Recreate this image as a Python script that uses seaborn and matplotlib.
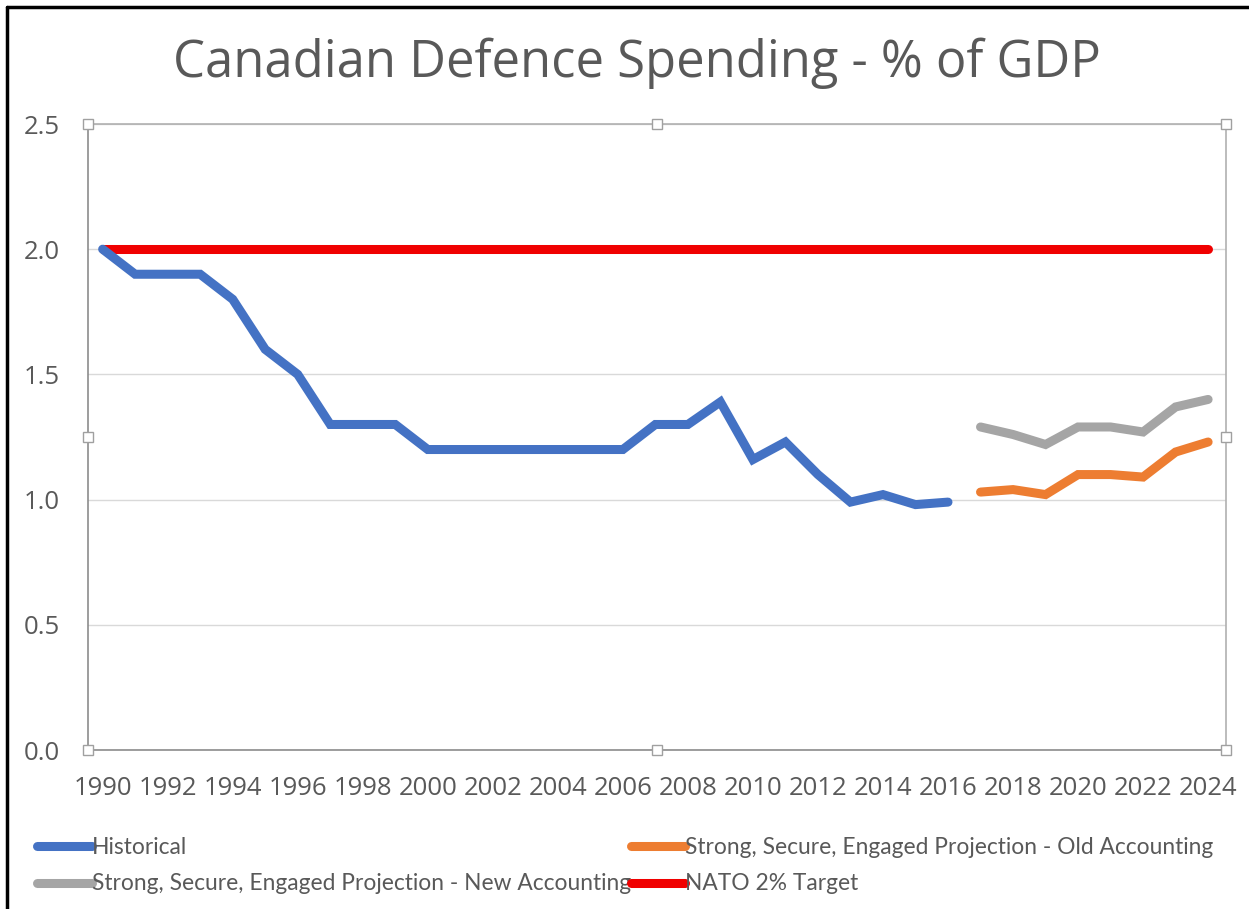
import numpy as np
import pandas as pd
import matplotlib
matplotlib.use("Agg")
import matplotlib.pyplot as plt
from matplotlib.lines import Line2D
import seaborn as sns

# ---- data ----
hist_years = list(range(1990, 2017))
hist_values = [2.0, 1.9, 1.9, 1.9, 1.8, 1.6, 1.5, 1.3, 1.3, 1.3,
               1.2, 1.2, 1.2, 1.2, 1.2, 1.2, 1.2, 1.3, 1.3, 1.39,
               1.16, 1.23, 1.10, 0.99, 1.02, 0.98, 0.99]
proj_years = list(range(2017, 2025))
old_acct_values = [1.03, 1.04, 1.02, 1.10, 1.10, 1.09, 1.19, 1.23]
new_acct_values = [1.29, 1.26, 1.22, 1.29, 1.29, 1.27, 1.37, 1.40]
nato_years = [1990, 2024]
nato_values = [2.0, 2.0]

x_ticks = list(range(1990, 2025, 2))
y_ticks = [0.0, 0.5, 1.0, 1.5, 2.0, 2.5]
title = "Canadian Defence Spending - % of GDP"
labels = ["Historical",
          "Strong, Secure, Engaged Projection - Old Accounting",
          "Strong, Secure, Engaged Projection - New Accounting",
          "NATO 2% Target"]
colors = ["#4472C4", "#ED7D31", "#A5A5A5", "#F00000"]

sns.set_theme(style="white")
plt.rcParams["font.family"] = ["Open Sans", "DejaVu Sans"]

W, H = 1249, 909
fig = plt.figure(figsize=(W / 100, H / 100), dpi=100)
ax_l, ax_r, ax_t, ax_b = 88, 1226, 124, 750
ax = fig.add_axes([ax_l / W, 1 - ax_b / H, (ax_r - ax_l) / W, (ax_b - ax_t) / H])

lw = 6.5
df_hist = pd.DataFrame({"year": hist_years, "value": hist_values})
df_old = pd.DataFrame({"year": proj_years, "value": old_acct_values})
df_new = pd.DataFrame({"year": proj_years, "value": new_acct_values})
df_nato = pd.DataFrame({"year": nato_years, "value": nato_values})

kw = dict(x="year", y="value", ax=ax, linewidth=lw, legend=False)
sns.lineplot(data=df_nato, color=colors[3], zorder=3, **kw)
sns.lineplot(data=df_hist, color=colors[0], zorder=4, **kw)
sns.lineplot(data=df_old, color=colors[1], zorder=4, **kw)
sns.lineplot(data=df_new, color=colors[2], zorder=4, **kw)
for ln in ax.lines:
    ln.set_solid_capstyle("round")
    ln.set_solid_joinstyle("miter")

ax.set_xlim(1989.55, 2024.55)
ax.set_ylim(0, 2.5)
ax.set_xticks(x_ticks)
ax.set_xticklabels([str(t) for t in x_ticks])
ax.set_yticks(y_ticks)
ax.set_yticklabels([f"{t:.1f}" for t in y_ticks])
ax.set_xlabel("")
ax.set_ylabel("")
ax.tick_params(axis="both", length=0, labelsize=18.5, colors="#595959")
ax.tick_params(axis="x", pad=19)
ax.tick_params(axis="y", pad=20)
ax.yaxis.grid(True, color="#D9D9D9", linewidth=1)
ax.set_axisbelow(True)
for side in ["left", "right", "top"]:
    ax.spines[side].set_color("#B0B0B0")
    ax.spines[side].set_linewidth(1.2)
ax.spines["bottom"].set_color("#8C8C8C")
ax.spines["bottom"].set_linewidth(1.2)
ax.spines["left"].set_color("#8C8C8C")

# selection handles of the plot area
for hx, hy in [(0, 0), (0.5, 0), (1, 0), (0, 0.5), (1, 0.5), (0, 1), (0.5, 1), (1, 1)]:
    ax.plot([hx], [hy], marker="s", markersize=7, markerfacecolor="white",
            markeredgecolor="#A0A0A0", markeredgewidth=1, transform=ax.transAxes,
            clip_on=False, zorder=6)

fig.text(637 / W, 1 - 63 / H, title, ha="center", va="center",
         fontsize=36.5, color="#595959", fontweight="normal")

handles = [Line2D([0], [0], color=c, linewidth=lw, solid_capstyle="round") for c in colors]
order = [0, 2, 1, 3]
leg = fig.legend([handles[i] for i in order], [labels[i] for i in order],
                 loc="upper left", bbox_to_anchor=(37 / W, 1 - 837 / H),
                 ncol=2, frameon=False, borderpad=0, borderaxespad=0,
                 handlelength=2.4, handletextpad=0.0, columnspacing=0.0,
                 labelspacing=0.68, prop={"family": ["Lato", "DejaVu Sans"], "size": 16.4})
for t in leg.get_texts():
    t.set_color("#595959")

# outer black frame (left and top edges)
fig.add_artist(Line2D([7 / W, 7 / W], [0, 1 - 7 / H], transform=fig.transFigure,
                      color="black", linewidth=2.5))
fig.add_artist(Line2D([7 / W, 1], [1 - 7 / H, 1 - 7 / H], transform=fig.transFigure,
                      color="black", linewidth=2.5))

fig.savefig("out.png", dpi=100, facecolor="white")
